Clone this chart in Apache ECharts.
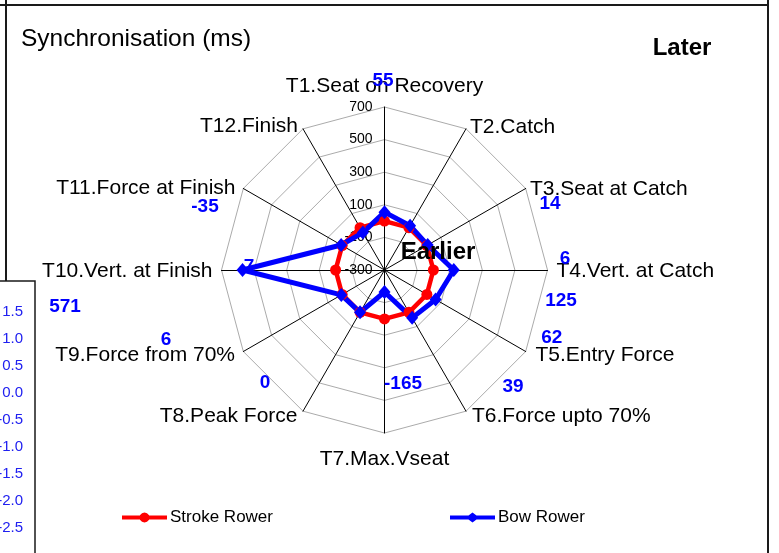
<!DOCTYPE html>
<html>
<head>
<meta charset="utf-8">
<script src="https://cdn.jsdelivr.net/npm/echarts@6/dist/echarts.min.js"></script>
<style>
  html, body { margin: 0; padding: 0; background: #fff; }
  #chart { width: 779px; height: 553px; }
</style>
</head>
<body>
<div id="chart"></div>
<script>
// Timing points of the stroke, listed clockwise from the top
const indicators = [
  'T1.Seat on Recovery', 'T2.Catch', 'T3.Seat at Catch', 'T4.Vert. at Catch',
  'T5.Entry Force', 'T6.Force upto 70%', 'T7.Max.Vseat', 'T8.Peak Force',
  'T9.Force from 70%', 'T10.Vert. at Finish', 'T11.Force at Finish', 'T12.Finish'
];
// Offsets in ms relative to the stroke rower
const strokeValues = [0, 0, 0, 0, 0, 0, 0, 0, 0, 0, 0, 0];
const bowValues = [55, 14, 6, 125, 62, 39, -165, 0, 6, 571, 7, -35];
const seriesNames = ['Stroke Rower', 'Bow Rower'];
// Radial scale: -300 .. 700 in steps of 200
const radialMin = -300;
const radialMax = 700;
const radialSplits = 5;
// Side scale of the panel at the lower left
const sideMin = -2.5;
const sideMax = 1.5;
const sideStep = 0.5;

const FONT = '"Liberation Sans", Arial, Helvetica, sans-serif';
// Small downward nudge so glyph centres land on their anchors
const TEXT_DY = 1.5;

// Where each bow value label sits (text centre, px)
const bowLabelSpots = [
  [383, 79], [550, 202], [565, 257.5], [561, 299], [551.7, 336.3], [513, 385],
  [403, 382], [265, 381], [166, 338.7], [65, 305], [249, 265], [205, 205.5]
];

// Where each axis name sits: anchor x, y and horizontal alignment
const nameSpots = [
  [384.5, 84.5, 'center'], [470, 125.5, 'left'], [530, 187.5, 'left'], [556.5, 270, 'left'],
  [535.5, 354, 'left'], [472, 415, 'left'], [384.5, 458, 'center'], [297.5, 414.5, 'right'],
  [235, 353.5, 'right'], [212.5, 270, 'right'], [235.5, 187, 'right'], [298, 125, 'right']
];

// ECharts lays radar indicators counter-clockwise; reverse to run clockwise
const order = indicators.map((_, i) => (i === 0 ? 0 : indicators.length - i));
const reorder = arr => order.map(i => arr[i]);

const chart = echarts.init(document.getElementById('chart'), null, { renderer: 'canvas' });

const radarIndicators = order.map((src, i) => {
  const ind = { name: indicators[src], min: radialMin, max: radialMax };
  if (i === 0) {
    ind.axisLabel = {
      show: true, color: '#000', fontSize: 14, fontFamily: FONT, margin: 12
    };
  }
  return ind;
});

function textEl(x, y, text, opts) {
  return {
    type: 'text', z: opts.z || 20, x: x, y: y + TEXT_DY,
    style: {
      text: text, fontSize: opts.size, fontWeight: opts.weight || 'normal', fontFamily: FONT,
      fill: opts.color || '#000', align: opts.align || 'center', verticalAlign: 'middle'
    }
  };
}

const frameColor = '#1a1a1a';
const graphics = [
  { type: 'line', z: 1, shape: { x1: 0, y1: 5, x2: 768, y2: 5 }, style: { stroke: frameColor, lineWidth: 2 } },
  { type: 'line', z: 1, shape: { x1: 6, y1: 0, x2: 6, y2: 553 }, style: { stroke: frameColor, lineWidth: 2 } },
  { type: 'line', z: 1, shape: { x1: 768, y1: 0, x2: 768, y2: 553 }, style: { stroke: frameColor, lineWidth: 2 } },
  { type: 'rect', z: 5, shape: { x: -5, y: 281, width: 40, height: 285 },
    style: { fill: '#fff', stroke: frameColor, lineWidth: 1.5 } },
  textEl(21, 37.5, 'Synchronisation (ms)', { size: 24.5, align: 'left' }),
  textEl(682, 47, 'Later', { size: 24, weight: 'bold' }),
  textEl(438, 251, 'Earlier', { size: 24, weight: 'bold' })
];
// Axis names around the rim
indicators.forEach((name, i) => {
  graphics.push(textEl(nameSpots[i][0], nameSpots[i][1], name, { size: 21, align: nameSpots[i][2], z: 15 }));
});
// Bow rower values
bowValues.forEach((v, i) => {
  graphics.push(textEl(bowLabelSpots[i][0], bowLabelSpots[i][1], String(v), { size: 19, weight: 'bold', color: '#0000ff' }));
});

// Legend icons: a thick line with the series marker in the middle
const lineCircleIcon = 'path://M0,3 H17.9 L18.17,2.5 L20,0.67 L22.5,0 L25,0.67 L26.83,2.5 L27.1,3 H45 V7 H27.1 ' +
  'L26.83,7.5 L25,9.33 L22.5,10 L20,9.33 L18.17,7.5 L17.9,7 H0 Z';
const lineDiamondIcon = 'path://M0,3 H18.5 L22.5,0 L26.5,3 H45 V7 H26.5 L22.5,10 L18.5,7 H0 Z';

const option = {
  animation: false,
  backgroundColor: '#fff',
  textStyle: { fontFamily: FONT },
  legend: [
    {
      data: [{ name: seriesNames[0], icon: lineCircleIcon }],
      left: 122, top: 509, padding: 0, itemWidth: 45, itemHeight: 10, itemGap: 0,
      symbolKeepAspect: false,
      textStyle: { color: '#000', fontSize: 17, fontFamily: FONT, padding: [0, 0, 0, -2] }
    },
    {
      data: [{ name: seriesNames[1], icon: lineDiamondIcon }],
      left: 450, top: 509, padding: 0, itemWidth: 45, itemHeight: 10, itemGap: 0,
      symbolKeepAspect: false,
      textStyle: { color: '#000', fontSize: 17, fontFamily: FONT, padding: [0, 0, 0, -2] }
    }
  ],
  grid: { left: 27, top: 311.7, width: 10, height: 216.3, show: false, outerBoundsMode: 'none', containLabel: false },
  xAxis: { type: 'value', show: false },
  yAxis: {
    type: 'value', min: sideMin, max: sideMax, interval: sideStep, z: 10,
    axisLine: { show: false }, axisTick: { show: false }, splitLine: { show: false },
    axisLabel: { color: '#2020f0', fontSize: 15, fontFamily: FONT, margin: 4, formatter: v => v.toFixed(1) }
  },
  radar: {
    center: [384.5, 270],
    radius: 163,
    startAngle: 90,
    shape: 'polygon',
    splitNumber: radialSplits,
    indicator: radarIndicators,
    axisName: { show: false },
    axisLine: { lineStyle: { color: '#000', width: 1 } },
    splitLine: { lineStyle: { color: '#ababab', width: 1 } },
    splitArea: { show: false },
    axisLabel: { show: false }
  },
  series: [
    {
      type: 'radar',
      symbol: 'circle',
      symbolSize: 11,
      lineStyle: { color: '#ff0000', width: 4.5 },
      itemStyle: { color: '#ff0000' },
      data: [{ name: seriesNames[0], value: reorder(strokeValues) }]
    },
    {
      type: 'radar',
      symbol: 'diamond',
      symbolSize: [12, 14],
      lineStyle: { color: '#0000ff', width: 5 },
      itemStyle: { color: '#0000ff' },
      data: [{ name: seriesNames[1], value: reorder(bowValues) }]
    }
  ],
  graphic: graphics
};

chart.setOption(option);
</script>
</body>
</html>
